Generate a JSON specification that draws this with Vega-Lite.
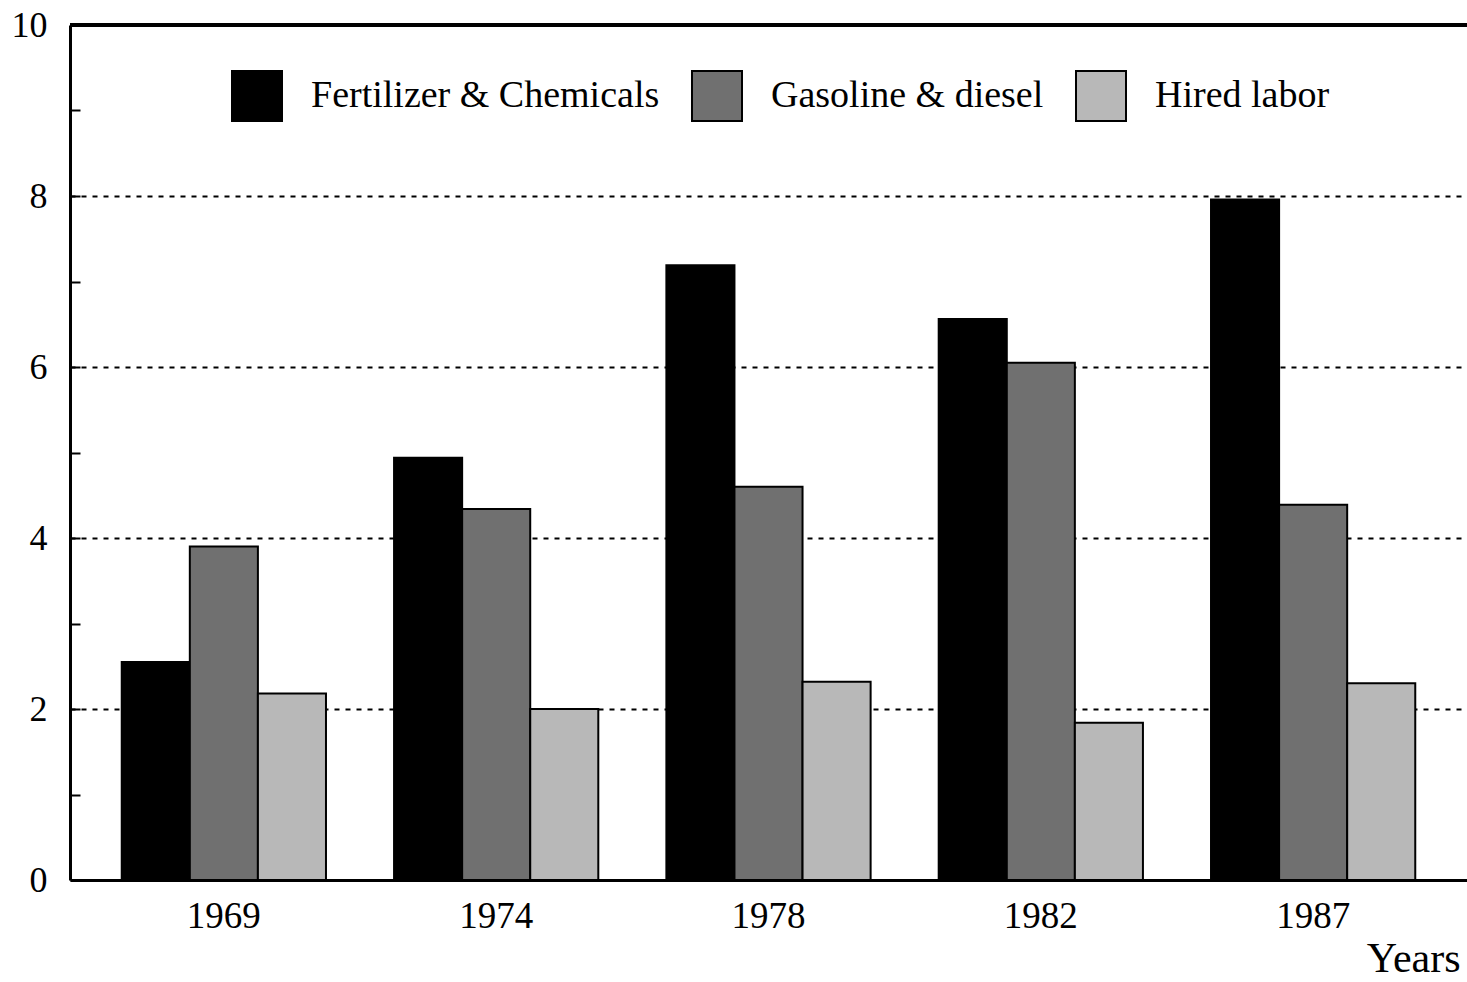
{
  "$schema": "https://vega.github.io/schema/vega-lite/v6.json",
  "autosize": "none",
  "padding": {"left": 70, "top": 25, "right": 0, "bottom": 102},
  "width": 1397,
  "height": 855,
  "background": "white",
  "config": {
    "view": {"stroke": null},
    "font": "Liberation Serif",
    "axis": {"labelFont": "Liberation Serif", "titleFont": "Liberation Serif", "labelColor": "black", "titleColor": "black"},
    "legend": {"labelFont": "Liberation Serif"}
  },
  "data": {
    "values": [
      {"year": "1969", "category": "Fertilizer & Chemicals", "value": 2.55},
      {"year": "1969", "category": "Gasoline & diesel", "value": 3.90},
      {"year": "1969", "category": "Hired labor", "value": 2.18},
      {"year": "1974", "category": "Fertilizer & Chemicals", "value": 4.94},
      {"year": "1974", "category": "Gasoline & diesel", "value": 4.34},
      {"year": "1974", "category": "Hired labor", "value": 2.00},
      {"year": "1978", "category": "Fertilizer & Chemicals", "value": 7.19},
      {"year": "1978", "category": "Gasoline & diesel", "value": 4.60},
      {"year": "1978", "category": "Hired labor", "value": 2.32},
      {"year": "1982", "category": "Fertilizer & Chemicals", "value": 6.56},
      {"year": "1982", "category": "Gasoline & diesel", "value": 6.05},
      {"year": "1982", "category": "Hired labor", "value": 1.84},
      {"year": "1987", "category": "Fertilizer & Chemicals", "value": 7.96},
      {"year": "1987", "category": "Gasoline & diesel", "value": 4.39},
      {"year": "1987", "category": "Hired labor", "value": 2.30}
    ]
  },
  "layer": [
    {
      "mark": {"type": "bar", "stroke": "black", "strokeWidth": 2},
      "encoding": {
        "x": {
          "field": "year",
          "type": "nominal",
          "scale": {"paddingInner": 0.25, "paddingOuter": 0.19},
          "axis": {
            "title": "Years",
            "titleFontSize": 42,
            "titleFontWeight": "normal",
            "titleAnchor": "end",
            "titleAlign": "right",
            "titleBaseline": "alphabetic",
            "titleY": 91,
            "titleX": 1390,
            "labelAngle": 0,
            "labelFontSize": 37,
            "labelPadding": 40,
            "ticks": true,
            "tickSize": -22,
            "tickWidth": 2,
            "tickColor": "black",
            "domainColor": "black",
            "domainWidth": 3
          }
        },
        "xOffset": {"field": "category", "type": "nominal"},
        "y": {
          "field": "value",
          "type": "quantitative",
          "scale": {"domain": [0, 10], "nice": false},
          "axis": {
            "title": null,
            "values": [0, 1, 2, 3, 4, 5, 6, 7, 8, 9, 10],
            "format": "d",
            "labelExpr": "datum.value % 2 == 0 ? datum.label : ''",
            "labelFontSize": 36,
            "labelPadding": 33,
            "tickSize": -10,
            "tickWidth": 2,
            "tickColor": "black",
            "domainColor": "black",
            "domainWidth": 3,
            "grid": true,
            "gridColor": "black",
            "gridWidth": 2,
            "gridDash": [5, 6],
            "gridOpacity": {"condition": {"test": "datum.value % 2 == 0 && datum.value > 0 && datum.value < 10", "value": 1}, "value": 0}
          }
        },
        "fill": {
          "field": "category",
          "type": "nominal",
          "scale": {
            "domain": ["Fertilizer & Chemicals", "Gasoline & diesel", "Hired labor"],
            "range": ["#000000", "#707070", "#b8b8b8"]
          },
          "legend": {
            "title": null,
            "orient": "none",
            "direction": "horizontal",
            "legendX": 161,
            "legendY": 45,
            "symbolType": "square",
            "symbolSize": 2500,
            "symbolStrokeColor": "black",
            "symbolStrokeWidth": 2,
            "symbolOpacity": 1,
            "labelFontSize": 38,
            "labelColor": "black",
            "labelOffset": 28,
            "columnPadding": 28,
            "labelLimit": 600
          }
        }
      }
    },
    {
      "mark": {"type": "rule", "color": "black", "strokeWidth": 3},
      "encoding": {"y": {"datum": 10}}
    }
  ]
}
